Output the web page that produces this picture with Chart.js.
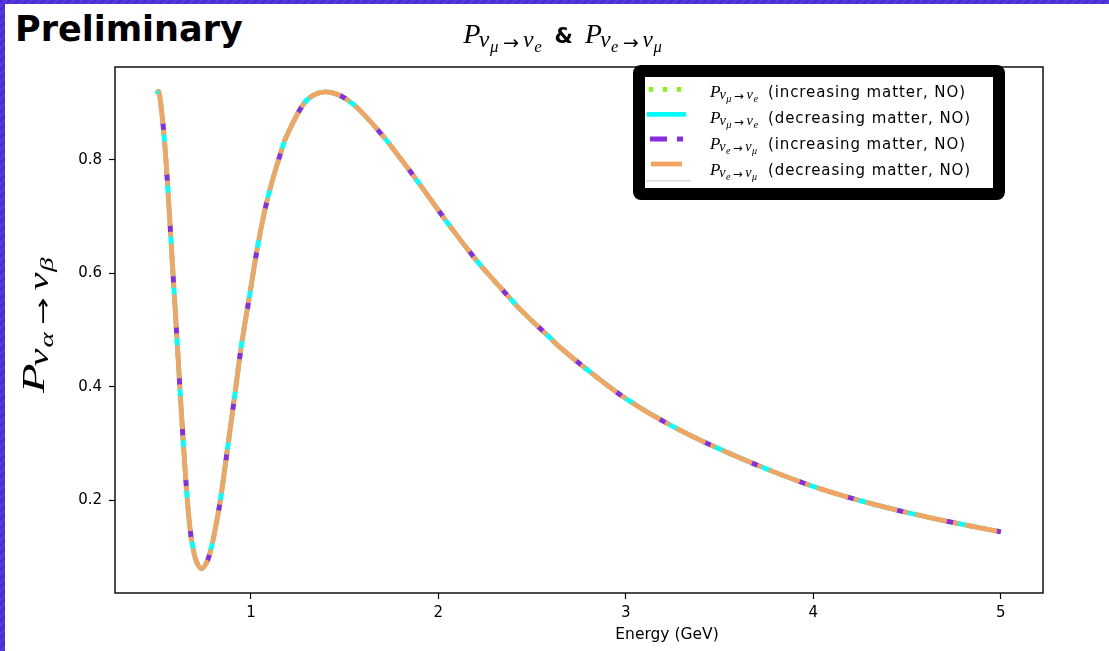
<!DOCTYPE html>
<html>
<head>
<meta charset="utf-8">
<script src="https://cdn.jsdelivr.net/npm/chart.js@4.4.1/dist/chart.umd.min.js"></script>
<style>
  html, body { margin: 0; padding: 0; }
  body {
    width: 1109px; height: 651px; overflow: hidden; position: relative;
    background: repeating-linear-gradient(135deg, #4a2bd6 0px, #4a2bd6 3px, #5737df 3px, #5737df 6px);
  }
  #sheet { position: absolute; left: 5px; top: 4px; right: 0; bottom: 0; background: #fff; }
  #prelim {
    position: absolute; left: 15px; top: 9px; line-height: 35px;
    font: bold 35px "Comic Sans MS", "DejaVu Sans", sans-serif; color: #000;
  }
  #wrap { position: absolute; left: 0; top: 0; width: 1109px; height: 651px; }
</style>
</head>
<body>
<div id="sheet"></div>
<div id="prelim">Preliminary</div>
<div id="wrap"><canvas id="chart" width="1109" height="651"></canvas></div>
<script>
// Energy (GeV) and probabilities
const energy = [0.500, 0.507, 0.515, 0.524, 0.533, 0.542, 0.551, 0.568, 0.583, 0.600,
                0.615, 0.631, 0.648, 0.662, 0.675, 0.693, 0.711, 0.737, 0.764, 0.781,
                0.799, 0.826, 0.844, 0.874, 0.915, 0.950, 0.995, 1.039, 1.092, 1.164,
                1.190, 1.279, 1.332, 1.394, 1.450, 1.510, 1.580, 1.700, 1.760, 1.870,
                1.920, 2.040, 2.080, 2.210, 2.260, 2.390, 2.440, 2.590, 2.640, 2.790,
                3.000, 3.250, 3.500, 3.750, 4.000, 4.250, 4.500, 4.750, 5.000];
const probRead = [0.916, 0.921, 0.909, 0.885, 0.856, 0.820, 0.779, 0.690, 0.607, 0.515,
                  0.432, 0.345, 0.258, 0.196, 0.150, 0.112, 0.090, 0.079, 0.090, 0.106,
                  0.131, 0.178, 0.215, 0.288, 0.388, 0.474, 0.565, 0.653, 0.736, 0.818,
                  0.842, 0.898, 0.914, 0.920, 0.917, 0.907, 0.888, 0.844, 0.819, 0.771,
                  0.748, 0.693, 0.675, 0.620, 0.601, 0.553, 0.535, 0.488, 0.472, 0.431,
                  0.379, 0.330, 0.290, 0.255, 0.224, 0.199, 0.178, 0.160, 0.144];
// the four curves lie on top of each other in the picture
const pMuE_inc = probRead.slice();
const pMuE_dec = probRead.slice();
const pEMu_inc = probRead.slice();
const pEMu_dec = probRead.slice();

const xTicks = [1, 2, 3, 4, 5];
const yTicks = [0.2, 0.4, 0.6, 0.8];
const legendLabels = ['(increasing matter, NO)', '(decreasing matter, NO)',
                      '(increasing matter, NO)', '(decreasing matter, NO)'];

const SERIF = '"Liberation Serif", "DejaVu Serif", serif';
const STRETCH = 1.17;

function pts(vals) {
    return energy.map((e, i) => ({ x: e, y: vals[i] }));
}

// P_{ν_a→ν_b}
function mathParts(a, b) {
    return [
        { t: 'P', s: 1, dy: 0, it: true, gap: -0.06 },
        { t: 'ν', s: 0.84, dy: 0.14, it: true, gap: 0.02 },
        { t: a, s: 0.6, dy: 0.3, it: true, gap: 0.16 },
        { t: '→', s: 0.68, dy: 0.2, arrow: true, gap: 0.14 },
        { t: 'ν', s: 0.84, dy: 0.14, it: true, gap: 0.02 },
        { t: b, s: 0.6, dy: 0.3, it: true, gap: 0 }
    ];
}

function fontOf(p, size) {
    const fam = p.arrow ? '"DejaVu Sans", sans-serif' : SERIF;
    return (p.it ? 'italic ' : '') + (p.s * size).toFixed(1) + 'px ' + fam;
}

// lays the pieces out one after the other and fits them to the width seen in the picture
function drawMath(ctx, parts, size, target) {
    ctx.textAlign = 'left';
    ctx.textBaseline = 'alphabetic';
    let w = 0;
    const xs = [];
    for (const p of parts) {
        ctx.font = fontOf(p, size);
        xs.push(w);
        w += ctx.measureText(p.t).width + p.gap * size;
    }
    ctx.scale(target / w, 1);
    parts.forEach((p, i) => {
        ctx.font = fontOf(p, size);
        ctx.fillText(p.t, xs[i], p.dy * size);
    });
}

const decorations = {
    id: 'decorations',
    afterDatasetsDraw(chart) {
        const { ctx, chartArea: a } = chart;
        ctx.save();
        ctx.strokeStyle = '#111';
        ctx.lineWidth = 1.5;
        ctx.strokeRect(a.left, a.top, a.right - a.left, a.bottom - a.top);
        ctx.restore();
    },
    afterDraw(chart) {
        const ctx = chart.ctx;
        ctx.save();
        ctx.fillStyle = '#000';

        // title
        ctx.save();
        ctx.translate(463.3, 43.3);
        ctx.scale(1, STRETCH);
        drawMath(ctx, mathParts('μ', 'e'), 24, 78.4);
        ctx.restore();
        ctx.font = 'bold 21px "Comic Sans MS", "DejaVu Sans", sans-serif';
        ctx.textAlign = 'left';
        ctx.textBaseline = 'alphabetic';
        ctx.fillText('&', 554.5, 43.3);
        ctx.save();
        ctx.translate(585, 43.3);
        ctx.scale(1, STRETCH);
        drawMath(ctx, mathParts('e', 'μ'), 24, 76.7);
        ctx.restore();

        // y label
        ctx.save();
        ctx.translate(43.5, 393);
        ctx.scale(1, STRETCH);
        ctx.rotate(-Math.PI / 2);
        drawMath(ctx, mathParts('α', 'β'), 32, 116);
        ctx.restore();

        // x label
        ctx.font = '15.5px "DejaVu Sans", sans-serif';
        ctx.textAlign = 'center';
        ctx.textBaseline = 'alphabetic';
        ctx.fillText('Energy (GeV)', 667, 638.5);

        // legend frame
        ctx.beginPath();
        const fx = 639, fy = 71, fw = 360, fh = 123, r = 2;
        ctx.moveTo(fx + r, fy);
        ctx.arcTo(fx + fw, fy, fx + fw, fy + fh, r);
        ctx.arcTo(fx + fw, fy + fh, fx, fy + fh, r);
        ctx.arcTo(fx, fy + fh, fx, fy, r);
        ctx.arcTo(fx, fy, fx + fw, fy, r);
        ctx.closePath();
        ctx.fillStyle = '#fff';
        ctx.fill();
        ctx.lineWidth = 12;
        ctx.lineJoin = 'round';
        ctx.strokeStyle = '#000';
        ctx.stroke();

        // legend handles
        const ds = chart.data.datasets;
        const green = ds[3].borderColor, cyan = ds[2].borderColor;
        const purple = ds[1].borderColor, orange = ds[0].borderColor;
        ctx.lineCap = 'butt';
        ctx.lineWidth = 4.8;
        const handle = (col, y, x0, x1, dash) => {
            ctx.beginPath();
            ctx.strokeStyle = col;
            ctx.setLineDash(dash);
            ctx.moveTo(x0, y);
            ctx.lineTo(x1, y);
            ctx.stroke();
        };
        handle(green, 89.3, 649, 682, [4, 10]);
        handle(cyan, 114.3, 647, 686, []);
        handle(purple, 139, 650, 684, [17, 10, 6, 100]);
        handle(orange, 164, 651, 682, []);
        ctx.lineWidth = 1.5;
        handle('#d9d9d9', 180.7, 646, 691, []);
        ctx.setLineDash([]);

        // legend texts
        const rows = [97, 123, 149, 175];
        const subs = [['μ', 'e'], ['μ', 'e'], ['e', 'μ'], ['e', 'μ']];
        ctx.fillStyle = '#000';
        rows.forEach((y, i) => {
            ctx.save();
            ctx.translate(710, y);
            ctx.scale(1, STRETCH);
            drawMath(ctx, mathParts(subs[i][0], subs[i][1]), 14.7, i < 2 ? 48 : 47);
            ctx.restore();
            ctx.font = '15px "Comic Sans MS", "DejaVu Sans", sans-serif';
            ctx.textAlign = 'left';
            ctx.textBaseline = 'alphabetic';
            if ('letterSpacing' in ctx) ctx.letterSpacing = '0.9px';
            ctx.fillText(legendLabels[i], 768, y);
            if ('letterSpacing' in ctx) ctx.letterSpacing = '0px';
        });
        ctx.restore();
    }
};

const common = {
    pointRadius: 0,
    borderWidth: 4.8,
    fill: false,
    tension: 0.4,
    borderCapStyle: 'butt'
};

new Chart(document.getElementById('chart').getContext('2d'), {
    type: 'line',
    data: {
        datasets: [
            Object.assign({ label: 'P e→μ (decreasing matter, NO)', data: pts(pEMu_dec),
                borderColor: '#F4A460', borderDash: [33, 6, 5, 7], borderDashOffset: 48 }, common),
            Object.assign({ label: 'P e→μ (increasing matter, NO)', data: pts(pEMu_inc),
                borderColor: '#8A2BE2', borderDash: [8, 43], borderDashOffset: 16 }, common),
            Object.assign({ label: 'P μ→e (decreasing matter, NO)', data: pts(pMuE_dec),
                borderColor: '#00FFFF' }, common),
            Object.assign({ label: 'P μ→e (increasing matter, NO)', data: pts(pMuE_inc),
                borderColor: '#7CFC00', borderDash: [4, 10] }, common)
        ]
    },
    options: {
        responsive: false,
        animation: false,
        layout: { padding: { left: 0, top: 67, right: 66, bottom: 0 } },
        plugins: {
            legend: { display: false },
            title: { display: false },
            tooltip: { enabled: false }
        },
        scales: {
            x: {
                type: 'linear',
                min: 0.275,
                max: 5.225,
                afterBuildTicks: (axis) => { axis.ticks = xTicks.map(v => ({ value: v })); },
                afterFit: (scale) => { scale.height = 58; },
                grid: { drawOnChartArea: false, drawTicks: true, tickLength: 6, tickColor: '#000', tickWidth: 1.2 },
                border: { display: false },
                ticks: {
                    color: '#000',
                    font: { family: 'DejaVu Sans', size: 15 },
                    padding: 5,
                    maxRotation: 0,
                    callback: (v) => String(v)
                }
            },
            y: {
                min: 0.036,
                max: 0.964,
                afterBuildTicks: (axis) => { axis.ticks = yTicks.map(v => ({ value: v })); },
                afterFit: (scale) => { scale.width = 115; },
                grid: { drawOnChartArea: false, drawTicks: true, tickLength: 6, tickColor: '#000', tickWidth: 1.2 },
                border: { display: false },
                ticks: {
                    color: '#000',
                    font: { family: 'DejaVu Sans', size: 15 },
                    padding: 7,
                    callback: (v) => v.toFixed(1)
                }
            }
        }
    },
    plugins: [decorations]
});
</script>
</body>
</html>
